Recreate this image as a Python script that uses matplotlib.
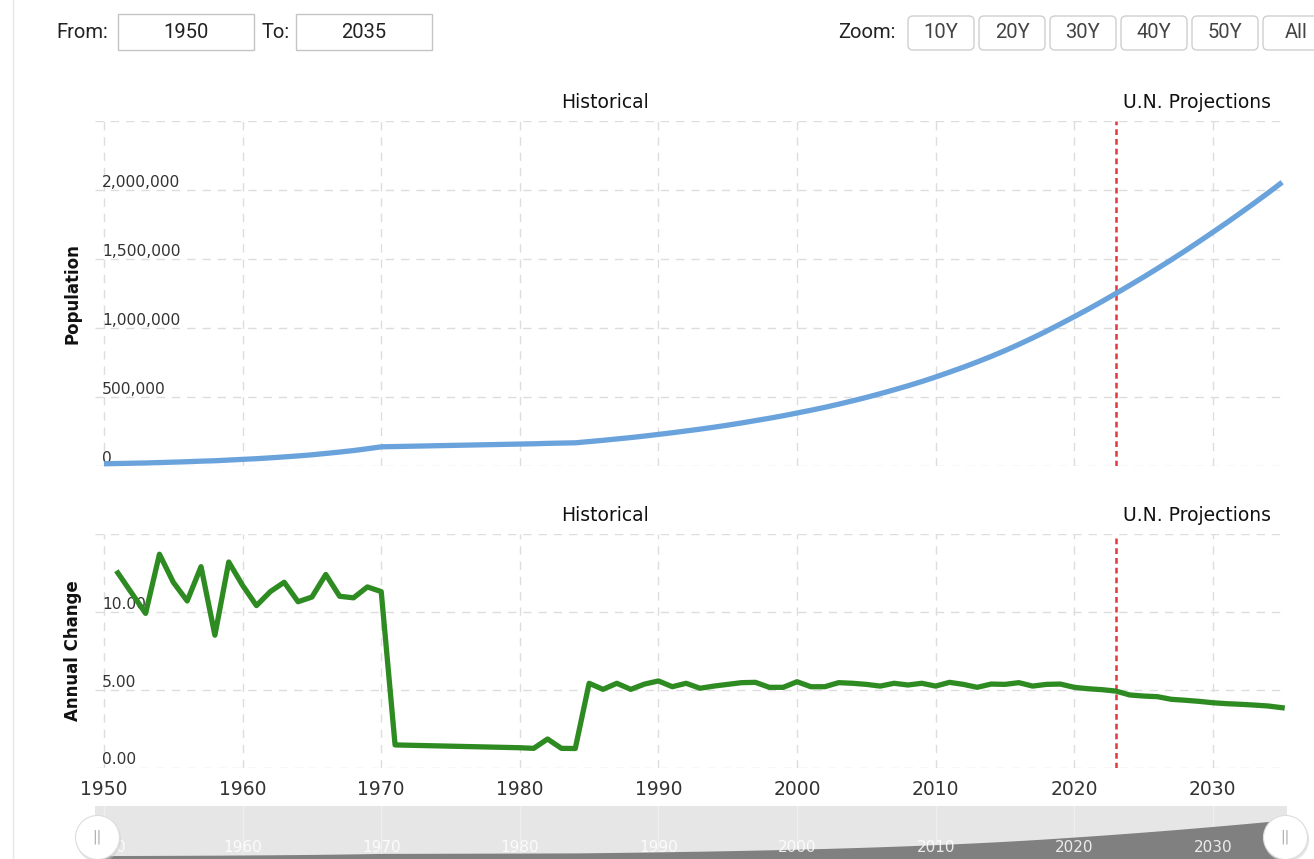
import matplotlib
matplotlib.use("Agg")
import matplotlib.pyplot as plt
import matplotlib.transforms as mtransforms
from matplotlib.patches import Rectangle, FancyBboxPatch

# data
pop_years = list(range(1950, 2036))
population = [
    16000, 18000, 20000, 22000, 25000, 28000, 31000, 35000, 38000, 43000,
    48000, 53000, 59000, 66000, 73000, 81000, 91000, 101000, 112000, 125000,
    139000, 141000, 143000, 145000, 147000, 149000, 151000, 153000, 155000, 157000,
    159000, 161000, 164000, 166000, 168000, 177000, 186000, 196000, 206000, 217000,
    229000, 241000, 254000, 267000, 281000, 296000, 312000, 329000, 346000, 364000,
    384000, 404000, 425000, 448000, 472000, 497000, 524000, 552000, 581000, 612000,
    645000, 680000, 716000, 754000, 794000, 836000, 881000, 928000, 977000, 1029000,
    1082000, 1136000, 1192000, 1250000, 1309000, 1369000, 1431000, 1494000, 1559000, 1626000,
    1694000, 1763000, 1834000, 1906000, 1980000, 2056000,
]

change_years = list(range(1951, 2036))
annual_change = [
    12.5, 11.2, 9.9, 13.7, 11.9, 10.7, 12.9, 8.5, 13.2,
    11.7, 10.4, 11.3, 11.9, 10.65, 10.95, 12.4, 11.0, 10.9, 11.6,
    11.3, 1.45, 1.43, 1.41, 1.39, 1.37, 1.35, 1.33, 1.31, 1.29,
    1.27, 1.23, 1.83, 1.23, 1.22, 5.41, 5.02, 5.41, 5.02, 5.36,
    5.56, 5.19, 5.41, 5.09, 5.23, 5.34, 5.45, 5.47, 5.15, 5.15,
    5.51, 5.19, 5.19, 5.45, 5.41, 5.34, 5.23, 5.41, 5.30, 5.41,
    5.23, 5.47, 5.34, 5.15, 5.36, 5.34, 5.45, 5.23, 5.34, 5.36,
    5.15, 5.06, 5.00, 4.91, 4.66, 4.59, 4.55, 4.38, 4.32, 4.25,
    4.16, 4.10, 4.06, 4.01, 3.95, 3.84,
]

projection_start = 2023
decades = list(range(1950, 2031, 10))
pop_ticks = [0, 500000, 1000000, 1500000, 2000000, 2500000]
change_ticks = [0, 5, 10, 15]
zoom_labels = ["10Y", "20Y", "30Y", "40Y", "50Y", "All"]
from_year, to_year = "1950", "2035"

plt.rcParams["font.family"] = ["DejaVu Sans"]

W, H = 1314, 859
GRID = dict(color="#dddddd", linestyle=(0, (6, 5)), linewidth=1)
TXT = "#333333"


def fig_box(x0, y0, x1, y1):
    return [x0 / W, 1 - y1 / H, (x1 - x0) / W, (y1 - y0) / H]


fig = plt.figure(figsize=(W / 100, H / 100), dpi=100)

# pixel overlay for the html-like controls
ov = fig.add_axes([0, 0, 1, 1], zorder=-1)
ov.set_xlim(0, W)
ov.set_ylim(H, 0)
ov.axis("off")
ov.plot([13, 13], [0, H], color="#e6e6e6", lw=1)

ov.text(56, 32, "From:", family="Roboto", fontsize=14.5, va="center", color="#222222")
ov.text(262, 32, "To:", family="Roboto", fontsize=14.5, va="center", color="#222222")
for x0, label in [(118, from_year), (296, to_year)]:
    ov.add_patch(Rectangle((x0, 14), 136, 36, fc="white", ec="#c4c4c4", lw=1))
    ov.text(x0 + 68, 32, label, family="Roboto", fontsize=14.5,
            ha="center", va="center", color="#222222")

ov.text(838, 33, "Zoom:", family="Roboto", fontsize=14.5, va="center", color="#222222")
for i, label in enumerate(zoom_labels):
    x0 = 908 + i * 71
    ov.add_patch(FancyBboxPatch((x0, 16), 66, 34, boxstyle="round,pad=0,rounding_size=5",
                                fc="white", ec="#cfcfcf", lw=1))
    ov.text(x0 + 33, 33, label, family="Roboto", fontsize=14.5,
            ha="center", va="center", color="#444444")


def style_axes(ax, ticks, labels, ylim):
    ax.set_xlim(1949.35, 2035.35)
    ax.set_ylim(*ylim)
    for s in ax.spines.values():
        s.set_visible(False)
    ax.set_xticks(decades)
    ax.set_yticks(ticks)
    ax.set_yticklabels(labels)
    ax.grid(True, **GRID)
    ax.set_axisbelow(True)
    ax.tick_params(axis="y", length=0, pad=-5, labelsize=11.2, labelcolor=TXT)
    for lab in ax.get_yticklabels():
        lab.set_horizontalalignment("left")
        lab.set_verticalalignment("bottom")
    ax.axvline(projection_start, color="#e0393b", lw=1.8, linestyle=(0, (2.3, 1.6)), zorder=3)
    trans = mtransforms.blended_transform_factory(ax.transData, ax.transAxes)
    for x, t in [((1949.35 + projection_start) / 2, "Historical"),
                 ((projection_start + 2035.35) / 2 - 0.3, "U.N. Projections")]:
        ax.annotate(t, xy=(x, 1.0), xycoords=trans, xytext=(0, 13), textcoords="offset points",
                    ha="center", va="center", fontsize=13.5, color="#111111")
    ax.yaxis.set_label_coords(-0.011, 0.5)


# population panel
ax1 = fig.add_axes(fig_box(95, 121, 1287, 466))
pop_labels = ["{:,}".format(v) for v in pop_ticks[:-1]] + [""]
style_axes(ax1, pop_ticks, pop_labels, (0, 2500000))
ax1.plot(pop_years, population, color="#6aa3dc", lw=3.8, solid_capstyle="butt", zorder=4, clip_on=False)
ax1.tick_params(axis="x", length=0, labelbottom=False)
ax1.set_ylabel("Population", fontweight="bold", fontsize=12, color="#111111")

# annual change panel
ax2 = fig.add_axes(fig_box(95, 534, 1287, 767.5))
change_labels = ["{:.2f}".format(v) for v in change_ticks[:-1]] + [""]
style_axes(ax2, change_ticks, change_labels, (0, 15))
ax2.plot(change_years, annual_change, color="#2e8b22", lw=3.8, zorder=4, clip_on=False)
ax2.tick_params(axis="x", length=0, pad=9, labelsize=13.5, labelcolor=TXT)
ax2.set_ylabel("Annual Change", fontweight="bold", fontsize=12, color="#111111")

# navigator
nav = fig.add_axes(fig_box(95, 806, 1287, 859))
nav.set_facecolor("#e6e6e6")
nav.set_xlim(1949.35, 2035.35)
nav.set_ylim(-183000, 2873000)
for s in nav.spines.values():
    s.set_visible(False)
nav.set_xticks([])
nav.set_yticks([])
for d in decades:
    nav.axvline(d, color="#efefef", lw=1, zorder=1)
nav.fill_between(pop_years, population, nav.get_ylim()[0], color="#808080", lw=0, zorder=2)
ntrans = mtransforms.blended_transform_factory(nav.transData, nav.transAxes)
for d in decades[1:]:
    nav.text(d, 0.21, str(d), transform=ntrans, ha="center", va="center",
             fontsize=11, color="white", alpha=0.85, zorder=3)
nav.text(decades[0] + 0.9, 0.21, "0", transform=ntrans, ha="left", va="center",
         fontsize=11, color="white", alpha=0.85, zorder=3)
for xa in [0.0017, 0.998]:
    nav.plot([xa + 0.001], [0.38], transform=nav.transAxes, marker="o", ms=32.5,
             mfc="#cccccc", mec="none", alpha=0.5, clip_on=False, zorder=5)
    nav.plot([xa], [0.42], transform=nav.transAxes, marker="o", ms=31.7,
             mfc="white", mec="#dddddd", mew=0.8, clip_on=False, zorder=6)
    nav.text(xa, 0.42, "||", transform=nav.transAxes, ha="center", va="center",
             fontsize=10, color="#aaaaaa", zorder=7, clip_on=False)

fig.savefig("out.png", dpi=100, facecolor="white")
